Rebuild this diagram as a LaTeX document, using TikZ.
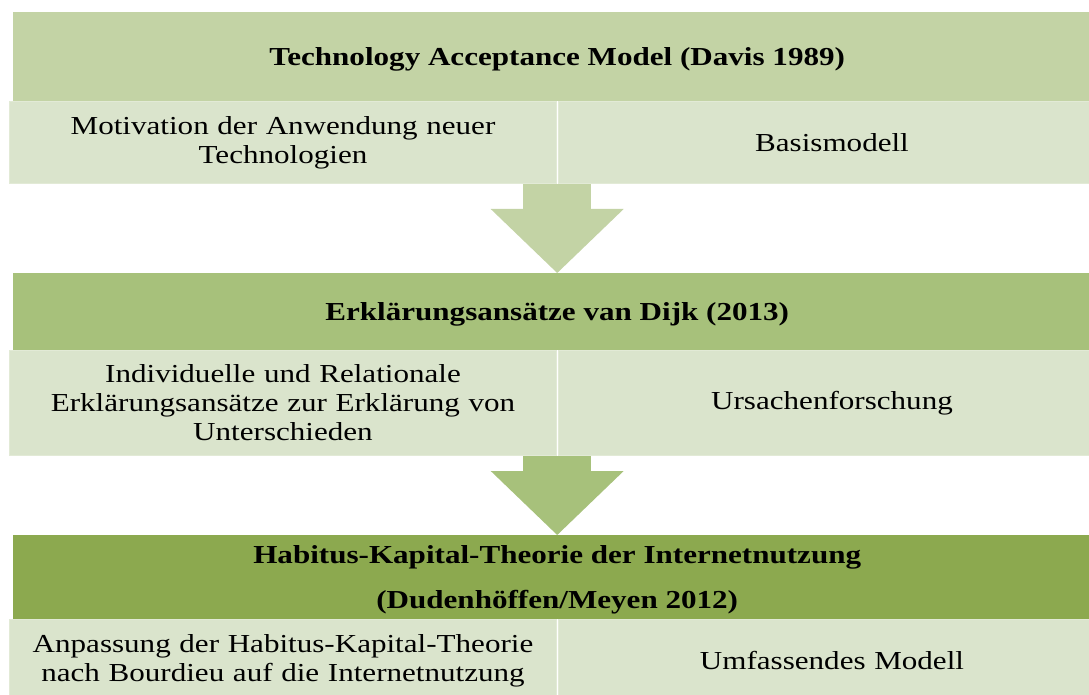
\documentclass[tikz,border=0pt]{standalone}
\usepackage{fontspec}
\setmainfont[FakeStretch=1.2]{Liberation Serif}
\usetikzlibrary{arrows.meta,positioning}

\definecolor{hdrA}{HTML}{C3D3A5}
\definecolor{hdrB}{HTML}{A7C17B}
\definecolor{hdrC}{HTML}{8CA94F}
\definecolor{cellbg}{HTML}{DAE4CC}
\definecolor{celledge}{HTML}{E2EAD6}

\begin{document}
\begin{tikzpicture}[x=1bp,y=-1bp]
\tikzset{
  header/.style = {shape=rectangle, anchor=north west, inner sep=0pt,
                   minimum width=1088bp, align=center, text depth=0pt,
                   font=\bfseries\fontsize{26}{45}\selectfont},
  cell/.style   = {shape=rectangle, anchor=north west, inner sep=0pt,
                   minimum width=547bp, text width=530bp, align=center,
                   fill=cellbg, draw=celledge, line width=1bp,
                   font=\fontsize{26}{29}\selectfont},
  flow/.style   = {line width=68bp,
                   -{Triangle[width=133bp,length=64bp,line width=0pt]}}
}
\useasboundingbox (0,0) rectangle (1089,695);
  % first model
  \node[header, fill=hdrA, minimum height=89bp] (hdrA) at (13,12)
    {Technology Acceptance Model (Davis 1989)};
  \node[cell, minimum height=82bp] (cellA1) at (9,101)
    {Motivation der Anwendung neuer\\Technologien};
  \node[cell, minimum height=82bp, right=1bp of cellA1] (cellA2)
    {Basismodell};
  % second model
  \node[header, fill=hdrB, minimum height=77bp] (hdrB) at (13,273)
    {Erklärungsansätze van Dijk (2013)};
  \node[cell, minimum height=105bp] (cellB1) at (9,350)
    {Individuelle und Relationale\\Erklärungsansätze zur Erklärung von\\Unterschieden};
  \node[cell, minimum height=105bp, right=1bp of cellB1] (cellB2)
    {Ursachenforschung};
  % third model
  \node[header, fill=hdrC, minimum height=84bp] (hdrC) at (13,535)
    {Habitus-Kapital-Theorie der Internetnutzung\\(Dudenhöffen/Meyen 2012)};
  \node[cell, minimum height=82bp] (cellC1) at (9,619)
    {Anpassung der Habitus-Kapital-Theorie\\nach Bourdieu auf die Internetnutzung};
  \node[cell, minimum height=82bp, right=1bp of cellC1] (cellC2)
    {Umfassendes Modell};
  % block arrows
  \draw[flow, hdrA] (hdrA.south |- cellA1.south) -- (hdrB.north);
  \draw[flow, hdrB] (hdrB.south |- cellB1.south) -- (hdrC.north);
\end{tikzpicture}
\end{document}
